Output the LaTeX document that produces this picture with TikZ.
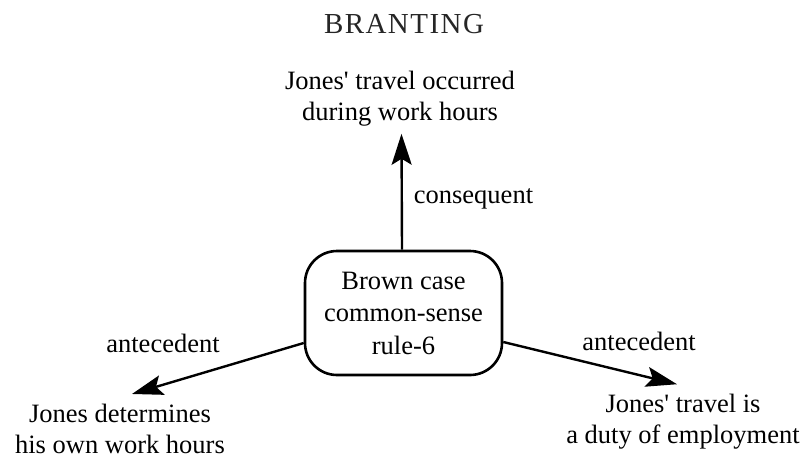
\documentclass[tikz,border=0pt]{standalone}
\usepackage{fontspec}
\setmainfont{Liberation Serif}
\newfontfamily\spacedfont[LetterSpace=5]{Liberation Serif}
\usetikzlibrary{arrows.meta}
\newcommand{\apos}{\textquotesingle}
\begin{document}
\begin{tikzpicture}[x=1pt,y=-1pt,
  txt/.style={inner sep=0pt, align=center, font=\fontsize{26.5}{31}\selectfont},
  lbl/.style={inner sep=0pt, anchor=base, font=\fontsize{26.5}{31}\selectfont},
  rulebox/.style={draw, line width=2.6pt, rounded corners=32pt, minimum width=197pt,
    minimum height=124pt, inner sep=0pt, align=center, font=\fontsize{26.5}{32.5}\selectfont},
  link/.style={line width=2.4pt, -{Stealth[length=31pt,width=20pt,inset=6pt]}}]
\useasboundingbox (0,0) rectangle (810,459);
\node[inner sep=0pt, anchor=base, font=\spacedfont\fontsize{29}{33}\selectfont, text=black!85] (title) at (404,33) {BRANTING};
\node[txt] (top) at (400,99) {Jones\apos{} travel occurred\\during work hours};
\node[rulebox] (box) at (403.5,313) {Brown case\\common-sense\\rule-6};
\node[txt] (left) at (120,429) {Jones determines\\his own work hours};
\node[txt] (right) at (683,422) {Jones\apos{} travel is\\a duty of employment};
\node[lbl] (cons) at (473.5,203) {consequent};
\node[lbl] (antl) at (163,352) {antecedent};
\node[lbl] (antr) at (639,350) {antecedent};
\draw[link] ([xshift=-1.5pt]box.north) -- ([xshift=1.5pt,yshift=-7pt]top.south);
\draw[link] ([yshift=-30pt]box.west) -- ([xshift=12pt,yshift=10pt]left.north);
\draw[link] ([yshift=-29pt]box.east) -- ([xshift=-6pt,yshift=10pt]right.north);
\end{tikzpicture}
\end{document}
